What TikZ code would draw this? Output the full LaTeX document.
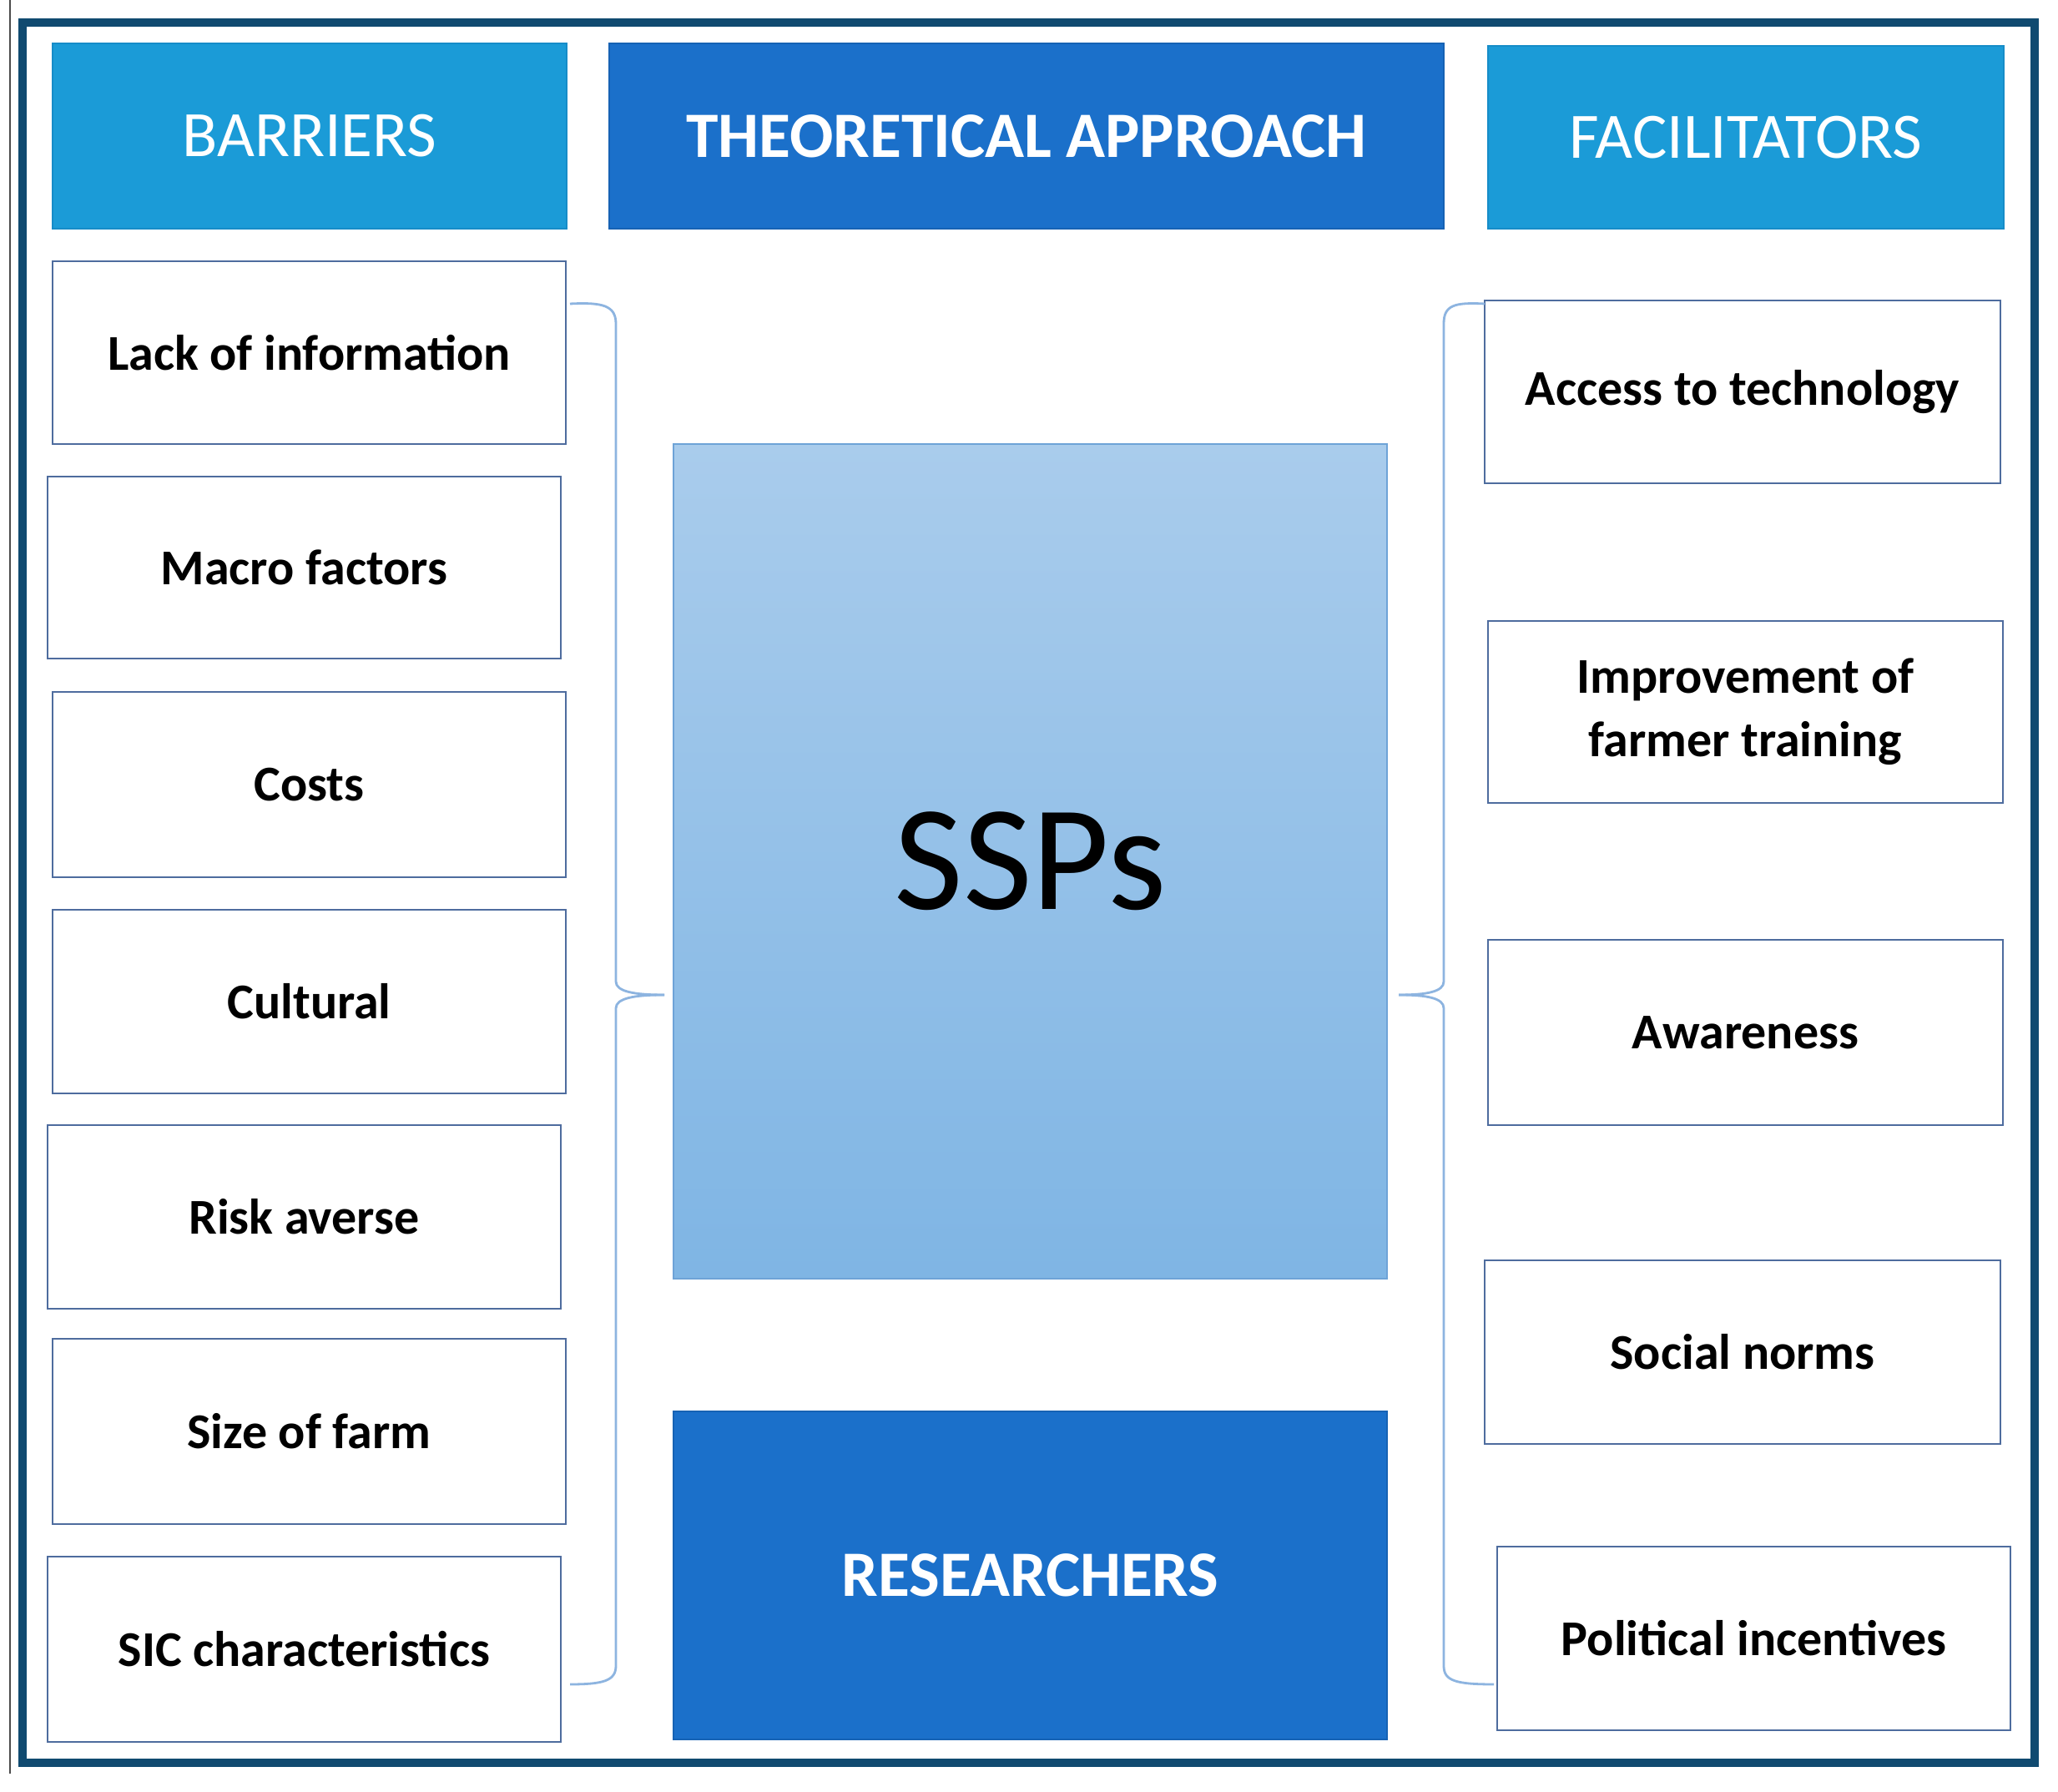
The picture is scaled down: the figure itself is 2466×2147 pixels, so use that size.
\documentclass[tikz,border=0pt]{standalone}
\usepackage{fontspec}
\setmainfont{Carlito}
\definecolor{frame}{RGB}{16,74,112}
\definecolor{lightbar}{RGB}{27,155,215}
\definecolor{lightbarE}{RGB}{22,140,200}
\definecolor{darkbar}{RGB}{27,112,202}
\definecolor{darkbarE}{RGB}{22,98,180}
\definecolor{itemE}{RGB}{78,108,158}
\definecolor{sspTop}{RGB}{169,204,236}
\definecolor{sspBot}{RGB}{127,181,228}
\definecolor{sspE}{RGB}{110,163,215}
\definecolor{braceC}{RGB}{141,180,224}
\tikzset{
  sz/.style 2 args={minimum width=#1*0.25pt, minimum height=#2*0.25pt},
  itembox/.style={draw=itemE, line width=0.6pt, fill=white, inner sep=0pt, align=center,
    font=\bfseries\fontsize{15}{19}\selectfont},
  headlight/.style={draw=lightbarE, line width=0.6pt, fill=lightbar, text=white, inner sep=0pt,
    font=\fontsize{19.4}{23}\selectfont},
  headdark/.style={draw=darkbarE, line width=0.6pt, fill=darkbar, text=white, inner sep=0pt,
    font=\bfseries\fontsize{19.4}{23}\selectfont},
  bracepath/.style={draw=braceC, line width=0.7pt},
}
\begin{document}
\begin{tikzpicture}[x=0.25pt,y=-0.25pt]
\useasboundingbox (0,0) rectangle (2466,2147);
\fill[white] (0,0) rectangle (2466,2147);
% thin left line and frame
\draw[black!70, line width=0.5pt] (12,0) -- (12,2125);
\draw[frame, line width=2.5pt] (27,27) rectangle (2438,2112);
% headers
\node[headlight, sz={616}{222}] (barriers) at (371,163) {BARRIERS};
\node[headdark, sz={1000}{222}] (theory) at (1230,163) {THEORETICAL APPROACH};
\node[headlight, sz={618}{219}] (facil) at (2092,164.5) {FACILITATORS};
% barriers
\node[itembox, sz={615}{219}] (b1) at (370.5,422.5) {Lack of information};
\node[itembox, sz={615}{218}] (b2) at (364.5,680) {Macro factors};
\node[itembox, sz={615}{222}] (b3) at (370.5,940) {Costs};
\node[itembox, sz={615}{220}] (b4) at (370.5,1200) {Cultural};
\node[itembox, sz={615}{220}] (b5) at (364.5,1458) {Risk averse};
\node[itembox, sz={615}{222}] (b6) at (370.5,1715) {Size of farm};
\node[itembox, sz={615}{222}] (b7) at (364.5,1976) {SIC characteristics};
% facilitators
\node[itembox, sz={618}{219}] (f1) at (2088,469.5) {Access to technology};
\node[itembox, sz={617}{218}] (f2) at (2091.5,853) {Improvement of\\farmer training};
\node[itembox, sz={617}{222}] (f3) at (2091.5,1237) {Awareness};
\node[itembox, sz={618}{220}] (f4) at (2088,1620) {Social norms};
\node[itembox, sz={615}{220}] (f5) at (2101.5,1963) {Political incentives};
% center
\node[draw=sspE, line width=0.6pt, top color=sspTop, bottom color=sspBot, inner sep=0pt,
  sz={855}{1000}, font=\fontsize{45}{54}\selectfont] (ssps) at (1234.5,1032) {SSPs};
\node[headdark, sz={855}{393}] (res) at (1234.5,1887.5) {RESEARCHERS};
% left brace
\coordinate (lbtop) at (683,364);
\coordinate (lbtip) at (796,1192);
\coordinate (lbbot) at (683,2018);
\draw[bracepath] (lbtop) .. controls (722,362) and (738,366) .. (738,388) -- (738,1176)
  .. controls (738,1188) and (760,1192) .. (lbtip);
\draw[bracepath] (lbtip) .. controls (760,1192) and (738,1196) .. (738,1208) -- (738,1996)
  .. controls (738,2014) and (722,2018) .. (lbbot);
% right brace
\coordinate (rbtop) at (1779,364);
\coordinate (rbtip) at (1676,1192);
\coordinate (rbbot) at (1790,2018);
\draw[bracepath] (rbtop) .. controls (1742,362) and (1730,366) .. (1730,388) -- (1730,1176)
  .. controls (1730,1188) and (1710,1192) .. (rbtip);
\draw[bracepath] (rbtip) .. controls (1710,1192) and (1730,1196) .. (1730,1208) -- (1730,1996)
  .. controls (1730,2014) and (1745,2018) .. (rbbot);
\end{tikzpicture}
\end{document}
